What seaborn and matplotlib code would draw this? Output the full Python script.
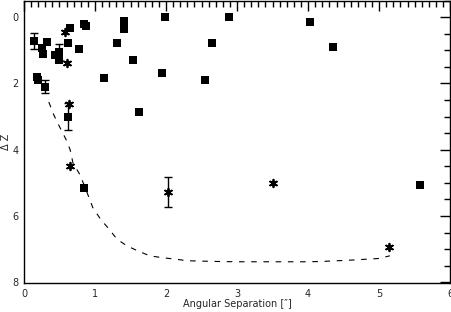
import matplotlib
matplotlib.use('Agg')
import matplotlib.pyplot as plt
from matplotlib.ticker import MultipleLocator
import seaborn as sns
import pandas as pd

# filled squares
sq_x = [0.14, 0.25, 0.27, 0.33, 0.44, 0.50, 0.49, 0.62, 0.65, 0.78, 0.85, 0.87,
        0.19, 0.20, 0.30, 0.62, 1.13, 1.31, 1.41, 1.41, 1.53, 1.62, 1.99, 2.89,
        2.65, 1.94, 2.55, 4.03, 4.35, 0.85, 5.58]
sq_y = [0.72, 0.93, 1.11, 0.75, 1.14, 1.05, 1.30, 0.78, 0.34, 0.96, 0.22, 0.27,
        1.80, 1.90, 2.10, 3.00, 1.83, 0.77, 0.12, 0.36, 1.30, 2.85, 0.00, 0.00,
        0.77, 1.67, 1.90, 0.13, 0.90, 5.15, 5.06]

# asterisks
st_x = [0.58, 0.61, 0.64, 0.65, 2.03, 3.51, 5.14]
st_y = [0.45, 1.38, 2.62, 4.48, 5.28, 5.00, 6.93]

# error bars
eb_x = [0.14, 0.30, 0.50, 0.62, 2.03]
eb_y = [0.72, 2.10, 1.05, 3.00, 5.28]
eb_err = [0.24, 0.20, 0.24, 0.40, 0.45]

# dashed curve
cv_x = [0.35, 0.42, 0.50, 0.59, 0.65, 0.69, 0.79, 0.89, 0.97, 1.08, 1.20, 1.31,
        1.45, 1.60, 1.77, 1.96, 2.13, 2.30, 2.70, 3.00, 3.50, 4.00, 4.20, 4.60,
        5.00, 5.15]
cv_y = [2.56, 2.95, 3.30, 3.68, 4.00, 4.40, 4.76, 5.30, 5.75, 6.10, 6.40, 6.70,
        6.90, 7.05, 7.20, 7.26, 7.30, 7.35, 7.37, 7.38, 7.38, 7.38, 7.37, 7.33,
        7.28, 7.20]

sq = pd.DataFrame({'x': sq_x, 'y': sq_y})
st = pd.DataFrame({'x': st_x, 'y': st_y})
cv = pd.DataFrame({'x': cv_x, 'y': cv_y})

sns.set_style('white')
plt.rcParams['font.family'] = ['DejaVu Sans']

fig = plt.figure(figsize=(4.52, 3.12), dpi=100)
ax = fig.add_axes([0.053, 0.093, 0.943, 0.905])

sns.lineplot(data=cv, x='x', y='y', ax=ax, sort=False, estimator=None,
             color='black', lw=0.8)
ax.lines[-1].set_linestyle((0, (5, 6)))
ax.errorbar(eb_x, eb_y, yerr=eb_err, fmt='none', ecolor='black',
            elinewidth=1, capsize=3, capthick=1)
sns.scatterplot(data=sq, x='x', y='y', ax=ax, marker='s', s=28,
                color='black', edgecolor='black', linewidth=0)
sns.scatterplot(data=st, x='x', y='y', ax=ax, marker=(6, 2, 0), s=30,
                color='black', linewidth=1.3)

ax.set_xlim(0, 6)
ax.set_ylim(8.02, -0.5)
ax.xaxis.set_major_locator(MultipleLocator(1))
ax.xaxis.set_minor_locator(MultipleLocator(0.1))
ax.yaxis.set_major_locator(MultipleLocator(2))
ax.yaxis.set_minor_locator(MultipleLocator(0.5))
ax.tick_params(which='both', direction='in', top=True, right=True,
               labelsize=7, width=1, color='black')
ax.tick_params(axis='x', pad=4)
ax.tick_params(axis='y', pad=4)
ax.tick_params(which='major', length=7)
ax.tick_params(which='minor', length=4)
for s in ax.spines.values():
    s.set_color('black')
    s.set_linewidth(1)

ax.set_xlabel('Angular Separation [″]', fontsize=7, labelpad=0)
ax.set_ylabel('Δ Z', fontsize=7)
ax.yaxis.set_label_coords(-0.03, 0.5)

fig.savefig('out.png', dpi=100)
